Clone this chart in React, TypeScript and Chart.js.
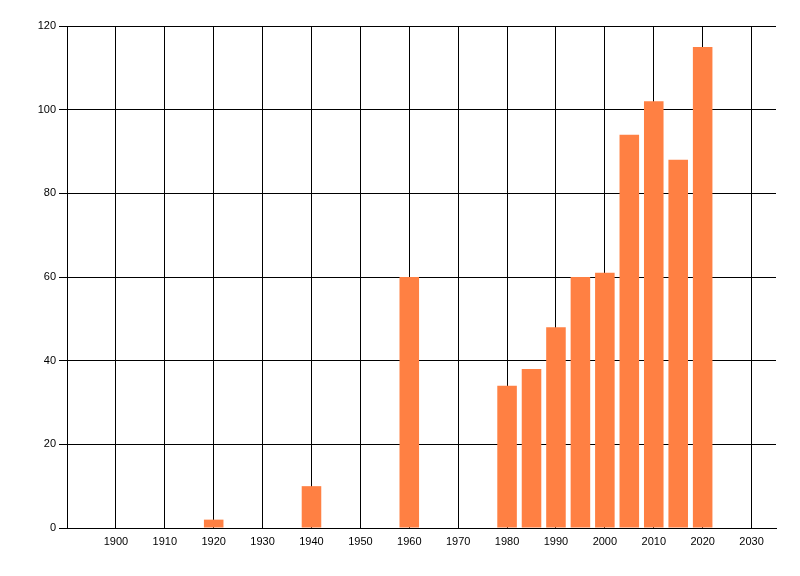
import React, { useEffect, useRef } from "react";
import { Chart, registerables } from "chart.js";

Chart.register(...registerables);

const years = [1920, 1940, 1960, 1980, 1985, 1990, 1995, 2000, 2005, 2010, 2015, 2020];
const values = [2, 10, 60, 34, 38, 48, 60, 61, 94, 102, 88, 115];
const xTickValues = [1900, 1910, 1920, 1930, 1940, 1950, 1960, 1970, 1980, 1990, 2000, 2010, 2020, 2030];
const yTickValues = [0, 20, 40, 60, 80, 100, 120];

export default function App() {
  const ref = useRef<HTMLCanvasElement | null>(null);

  useEffect(() => {
    const canvas = ref.current;
    if (!canvas) return;
    const chart = new Chart(canvas, {
      type: "bar",
      data: {
        datasets: [
          {
            data: years.map((x, i) => ({ x, y: values[i] })),
            backgroundColor: "#FF8043",
            borderWidth: 0,
            barPercentage: 0.8,
            categoryPercentage: 1.0,
          },
        ],
      },
      options: {
        animation: false,
        responsive: false,
        devicePixelRatio: 1,
        layout: { padding: { left: 0, top: 26, right: 24, bottom: 0 } },
        plugins: { legend: { display: false }, tooltip: { enabled: false } },
        scales: {
          x: {
            type: "linear",
            min: 1890,
            max: 2035,
            offset: false,
            afterBuildTicks: (s: any) => {
              s.ticks = xTickValues.map((v) => ({ value: v }));
            },
            afterFit: (s: any) => {
              s.height = 48;
            },
            grid: { color: "#000", lineWidth: 1, drawTicks: false, offset: false },
            border: { color: "#000", width: 1 },
            ticks: {
              color: "#000",
              padding: 7,
              maxRotation: 0,
              autoSkip: false,
              font: { family: "Liberation Sans", size: 11 },
              callback: (v: any) => String(v),
            },
          },
          y: {
            min: 0,
            max: 120,
            afterBuildTicks: (s: any) => {
              s.ticks = yTickValues.map((v) => ({ value: v }));
            },
            afterFit: (s: any) => {
              s.width = 67;
            },
            grid: { color: "#000", lineWidth: 1, drawTicks: true, tickLength: 8 },
            border: { color: "#000", width: 1 },
            ticks: {
              color: "#000",
              padding: 3,
              font: { family: "Liberation Sans", size: 11 },
            },
          },
        },
      },
    });
    return () => chart.destroy();
  }, []);

  return (
    <div style={{ position: "absolute", left: 0, top: 0, width: 800, height: 576, background: "#fff" }}>
      <canvas ref={ref} width={800} height={576} style={{ width: 800, height: 576 }} />
    </div>
  );
}
